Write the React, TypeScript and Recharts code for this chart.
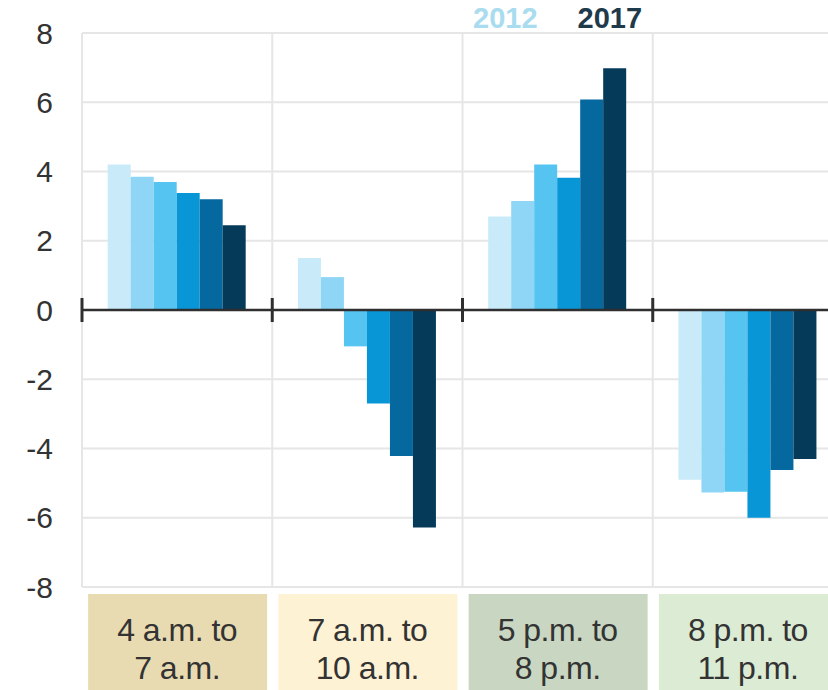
import React from "react";
import { BarChart, Bar, XAxis, YAxis, CartesianGrid, ReferenceLine } from "recharts";

const categories = ["4 a.m. to|7 a.m.", "7 a.m. to|10 a.m.", "5 p.m. to|8 p.m.", "8 p.m. to|11 p.m."];
const years = ["2012", "2013", "2014", "2015", "2016", "2017"];
const v2012 = [4.2, 1.5, 2.7, -4.9];
const v2013 = [3.85, 0.95, 3.15, -5.27];
const v2014 = [3.7, -1.05, 4.2, -5.25];
const v2015 = [3.38, -2.7, 3.82, -6.0];
const v2016 = [3.2, -4.22, 6.08, -4.62];
const v2017 = [2.45, -6.28, 6.98, -4.3];
const yTicks = [-8, -6, -4, -2, 0, 2, 4, 6, 8];

const barColors = ["#c8eaf9", "#8fd6f6", "#55c4f1", "#0996d6", "#05689f", "#063a59"];
const boxColors = ["#e9dbb1", "#fdf2d4", "#c9d6c1", "#dcebd4"];

const series = [v2012, v2013, v2014, v2015, v2016, v2017];
const data = categories.map((c, i) => {
  const row: Record<string, any> = { cat: c };
  years.forEach((y, j) => {
    row["y" + y] = series[j][i];
  });
  return row;
});

const FONT = "'Liberation Sans', Arial, sans-serif";

const CatTick = (props: any) => {
  const { x, y, payload, index } = props;
  const lines = String(payload.value).split("|");
  const top = y + 7;
  return (
    <g>
      <rect x={x - 89} y={top} width={179} height={120} fill={boxColors[index % 4]} />
      {lines.map((l, k) => (
        <text
          key={k}
          x={x}
          y={top + 47 + k * 38}
          textAnchor="middle"
          fontFamily={FONT}
          fontSize={32}
          letterSpacing={-0.5}
          fill="#333"
        >
          {l}
        </text>
      ))}
    </g>
  );
};

const ZeroLine = (props: any) => {
  const { x1, x2, y1 } = props;
  const w = x2 - x1;
  const marks = [0, 1, 2, 3, 4].map((i) => x1 + (i * w) / 4);
  return (
    <g>
      <line x1={x1} x2={x2} y1={y1} y2={y1} stroke="#2f2f2f" strokeWidth={2.5} />
      {marks.map((m, i) => (
        <line key={i} x1={m} x2={m} y1={y1 - 12} y2={y1 + 12} stroke="#2f2f2f" strokeWidth={3} />
      ))}
    </g>
  );
};

export default function App() {
  return (
    <div
      style={{
        position: "absolute",
        left: 0,
        top: 0,
        width: 828,
        height: 690,
        overflow: "hidden",
        background: "#fff",
      }}
    >
      <BarChart
        width={843}
        height={690}
        data={data}
        margin={{ top: 33, right: 0, left: 0, bottom: 0 }}
        barCategoryGap="13.5%"
        barGap={0}
      >
        <CartesianGrid
          stroke="#e6e6e6"
          strokeWidth={2}
          verticalCoordinatesGenerator={({ offset }: any) =>
            [0, 1, 2, 3, 4].map((i) => offset.left + (i * offset.width) / 4)
          }
        />
        <XAxis
          dataKey="cat"
          height={103}
          axisLine={false}
          tickLine={false}
          tickSize={0}
          tickMargin={0}
          interval={0}
          tick={<CatTick />}
        />
        <YAxis
          width={82}
          domain={[-8, 8]}
          ticks={yTicks}
          axisLine={false}
          tickLine={false}
          tickSize={0}
          tickMargin={29}
          interval={0}
          tick={{ fill: "#333", fontSize: 30, fontFamily: FONT }}
        />
        {years.map((y, j) => (
          <Bar key={y} dataKey={"y" + y} fill={barColors[j]} isAnimationActive={false} />
        ))}
        <ReferenceLine y={0} shape={<ZeroLine />} />
      </BarChart>
      <div
        style={{
          position: "absolute",
          left: 473,
          top: 7,
          fontFamily: FONT,
          fontWeight: "bold",
          fontSize: 29,
          lineHeight: "22px",
          whiteSpace: "nowrap",
        }}
      >
        <span style={{ color: "#a8dcee" }}>2012</span>
        <span style={{ color: "#1f3a4a", marginLeft: 40 }}>2017</span>
      </div>
    </div>
  );
}
